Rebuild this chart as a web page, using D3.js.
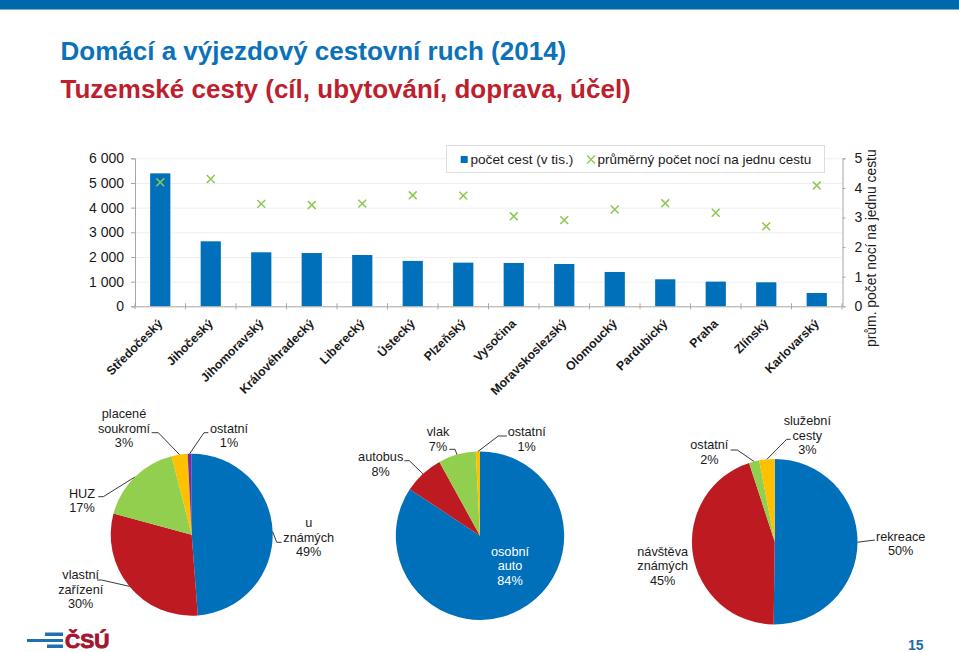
<!DOCTYPE html>
<meta charset="utf-8">
<style type="text/css">
html, body {
  margin: 0;
  background: #fff;
}
svg {
  display: block;
}
text {
  font-family: "Liberation Sans", Arial, sans-serif;
  fill: #1a1a1a;
}
.axis text {
  font-size: 14px;
}
.axis path, .axis line {
  stroke: #a6a6a6;
}
.grid line {
  stroke: #efefef;
}
.grid path {
  display: none;
}
.plabel {
  font-size: 12.7px;
  text-anchor: middle;
}
.leader {
  fill: none;
  stroke: #222;
  stroke-width: 0.9;
}
</style>

<script src="https://d3js.org/d3.v7.min.js" charset="utf-8"></script>
<body>
<svg id="page" width="959" height="652"></svg>
<script>

var regions = ["Středočeský", "Jihočeský", "Jihomoravský", "Královéhradecký", "Liberecký", "Ústecký", "Plzeňský",
               "Vysočina", "Moravskoslezský", "Olomoucký", "Pardubický", "Praha", "Zlínský", "Karlovarský"];
var trips = [5390, 2635, 2190, 2160, 2080, 1840, 1770, 1757, 1716, 1392, 1095, 1000, 973, 540];
var nights = [4.19, 4.30, 3.46, 3.42, 3.47, 3.75, 3.74, 3.04, 2.91, 3.27, 3.48, 3.16, 2.70, 4.08];
var tripTicks = [0, 1000, 2000, 3000, 4000, 5000, 6000];
var nightTicks = [0, 1, 2, 3, 4, 5];

var stayNames = ["u známých", "vlastní zařízení", "HUZ", "placené soukromí", "ostatní"];
var stayShares = [48.8, 30.4, 16.8, 3.2, 0.8];

var transportNames = ["osobní auto", "autobus", "vlak", "ostatní"];
var transportShares = [84.3, 7.7, 7.2, 0.8];

var purposeNames = ["rekreace", "návštěva známých", "ostatní", "služební cesty"];
var purposeShares = [50.2, 44.8, 2.0, 3.0];

var blue = "#0070bb", red = "#bd1a22", green = "#92cf4f", yellow = "#ffc000", purple = "#7030a0";
var crossGreen = "#8cc751";

var svg = d3.select("#page");

// header
svg.append("rect").attr("width", 959).attr("height", 9.5).attr("fill", "#0068ad");
svg.append("text").attr("x", 60.5).attr("y", 60).style("font-size", "26px").style("font-weight", "bold")
   .style("fill", "#0b72b9").text("Domácí a výjezdový cestovní ruch (2014)");
svg.append("text").attr("x", 60.5).attr("y", 98).style("font-size", "26px").style("font-weight", "bold")
   .style("fill", "#be1e2d").text("Tuzemské cesty (cíl, ubytování, doprava, účel)");

// combo chart
var x = d3.scaleBand().domain(regions).range([135, 842]).paddingInner(0.6).paddingOuter(0.3);
var yTrips = d3.scaleLinear().domain([0, 6000]).range([306.3, 158.3]);
var yNights = d3.scaleLinear().domain([0, 5]).range([306.3, 158.3]);
var fmt = function(d) { return d3.format(",")(d).replace(",", " "); };

svg.append("g").attr("class", "grid").attr("transform", "translate(135,0)")
   .call(d3.axisRight(yTrips).tickValues(tripTicks.slice(1)).tickSize(707).tickFormat(""));

svg.append("g").selectAll("rect").data(regions).enter().append("rect")
   .attr("x", function(d) { return x(d); })
   .attr("width", x.bandwidth())
   .attr("y", function(d, i) { return yTrips(trips[i]); })
   .attr("height", function(d, i) { return yTrips(0) - yTrips(trips[i]); })
   .attr("fill", blue);

var xAxis = svg.append("g").attr("class", "axis").attr("transform", "translate(0,306.3)")
   .call(d3.axisBottom(x).tickSizeOuter(0).tickSize(0));
xAxis.selectAll("text")
   .style("font-size", "12.3px").style("font-weight", "bold").style("text-anchor", "end")
   .attr("dy", 0).attr("y", 0)
   .attr("transform", "translate(3,18) rotate(-45)");
// excel puts the ticks between categories
xAxis.selectAll(".between").data(d3.range(regions.length + 1)).enter().append("line")
   .attr("class", "between")
   .attr("x1", function(i) { return 135 + i * x.step(); })
   .attr("x2", function(i) { return 135 + i * x.step(); })
   .attr("y1", -3).attr("y2", 3);

var leftAxis = svg.append("g").attr("class", "axis").attr("transform", "translate(135,0)")
   .call(d3.axisLeft(yTrips).tickValues(tripTicks).tickFormat(fmt).tickSize(4).tickPadding(7));
var rightAxis = svg.append("g").attr("class", "axis").attr("transform", "translate(842.5,0)")
   .call(d3.axisRight(yNights).tickValues(nightTicks).tickFormat(d3.format("d")).tickSize(3).tickPadding(9));

svg.append("g").selectAll("path").data(regions).enter().append("path")
   .attr("d", d3.symbol().type(d3.symbolTimes).size(42))
   .attr("transform", function(d, i) {
     return "translate(" + (x(d) + x.bandwidth() / 2) + "," + yNights(nights[i]) + ")";
   })
   .attr("fill", "none").attr("stroke", crossGreen).attr("stroke-width", 1.5);

svg.append("text").attr("transform", "translate(876,347) rotate(-90)").style("font-size", "13.9px")
   .text("prům. počet nocí na jednu cestu");

// legend
var legend = svg.append("g");
legend.append("rect").attr("x", 446.5).attr("y", 145.5).attr("width", 378).attr("height", 27)
   .attr("fill", "#fff").attr("stroke", "#dedede");
legend.append("rect").attr("x", 460.7).attr("y", 156).attr("width", 7).attr("height", 7).attr("fill", blue);
legend.append("text").attr("x", 470.5).attr("y", 163.7).style("font-size", "13.6px").text("počet cest (v tis.)");
legend.append("path").attr("d", d3.symbol().type(d3.symbolTimes).size(42))
   .attr("transform", "translate(591,159.5)")
   .attr("fill", "none").attr("stroke", crossGreen).attr("stroke-width", 1.3);
legend.append("text").attr("x", 597.5).attr("y", 163.7).style("font-size", "13.45px").text("průměrný počet nocí na jednu cestu");

// pies, label layout: lines of the name, centre x, first baseline, elbow of the leader
function drawPie(o) {
  var g = svg.append("g").attr("transform", "translate(" + o.cx + "," + o.cy + ")");
  var pie = d3.pie().sort(null).value(function(d) { return d; });
  var arcs = pie(o.shares);
  var arc = d3.arc().innerRadius(0).outerRadius(o.r);
  var edge = d3.arc().innerRadius(o.r).outerRadius(o.r);

  g.selectAll("path.slice").data(arcs).enter().append("path")
   .attr("class", "slice")
   .attr("d", arc)
   .attr("fill", function(d, i) { return o.colors[i]; });

  o.labels.forEach(function(l, i) {
    if (l.elbow) {
      var p = edge.centroid(arcs[i]);
      svg.append("polyline").attr("class", "leader")
         .attr("points", [[p[0] + o.cx, p[1] + o.cy]].concat(l.elbow).join(" "));
    }
    var lines = l.lines.concat(Math.round(o.shares[i]) + "%");
    var t = svg.append("text").attr("class", "plabel").style("fill", l.color || null);
    lines.forEach(function(s, j) {
      t.append("tspan").attr("x", l.x).attr("y", l.y + j * 14.6).text(s);
    });
  });
}

drawPie({
  cx: 191.7, cy: 534.7, r: 81, shares: stayShares,
  colors: [blue, red, green, yellow, purple],
  labels: [
    {lines: ["u", "známých"], x: 308.7, y: 527, elbow: [[276.7, 542.3], [281.7, 542.3]]},
    {lines: ["vlastní", "zařízení"], x: 80.7, y: 579, elbow: [[101.7, 580], [97, 580]]},
    {lines: ["HUZ"], x: 82, y: 497.7, elbow: [[103.3, 496.7], [98.3, 496.7]]},
    {lines: ["placené", "soukromí"], x: 124, y: 418, elbow: [[158.3, 432.7], [151.7, 432.7]]},
    {lines: ["ostatní"], x: 229, y: 432.7, elbow: [[204, 432.7], [208.3, 432.7]]}
  ]
});

drawPie({
  cx: 480, cy: 535.7, r: 84.2, shares: transportShares,
  colors: [blue, red, green, yellow],
  labels: [
    {lines: ["osobní", "auto"], x: 510, y: 555.7, color: "#fff"},
    {lines: ["autobus"], x: 380.7, y: 461, elbow: [[409.3, 460.7], [404.3, 460.7]]},
    {lines: ["vlak"], x: 438, y: 436, elbow: [[455, 449.3], [449.3, 449.3]]},
    {lines: ["ostatní"], x: 526.7, y: 436, elbow: [[498.3, 436], [506.7, 436]]}
  ]
});

drawPie({
  cx: 774.7, cy: 541.7, r: 82.8, shares: purposeShares,
  colors: [blue, red, green, yellow],
  labels: [
    {lines: ["rekreace"], x: 900.7, y: 540.7, elbow: [[875, 540]]},
    {lines: ["návštěva", "známých"], x: 662.7, y: 555.7},
    {lines: ["ostatní"], x: 709.3, y: 449.3, elbow: [[737.3, 450], [730.7, 450]]},
    {lines: ["služební", "cesty"], x: 807.3, y: 425, elbow: [[786.7, 439.3], [790.7, 439.3]]}
  ]
});

// footer logo and page number
var logo = svg.append("g");
logo.append("rect").attr("x", 45).attr("y", 632.5).attr("width", 18).attr("height", 3.5).attr("fill", "#1f6fb2");
logo.append("rect").attr("x", 27).attr("y", 639).attr("width", 36).attr("height", 3).attr("fill", "#1f6fb2");
logo.append("rect").attr("x", 47).attr("y", 644.5).attr("width", 16).attr("height", 3.5).attr("fill", "#1f6fb2");
logo.append("text").attr("x", 65).attr("y", 648).style("font-size", "21px").style("font-weight", "bold")
    .style("fill", "#a3162e").style("stroke", "#a3162e").style("stroke-width", 0.9).text("ČSÚ");
svg.append("text").attr("x", 908).attr("y", 650).style("font-size", "14px").style("font-weight", "bold")
   .style("fill", "#1b6ca8").text("15");

</script>
</body>
